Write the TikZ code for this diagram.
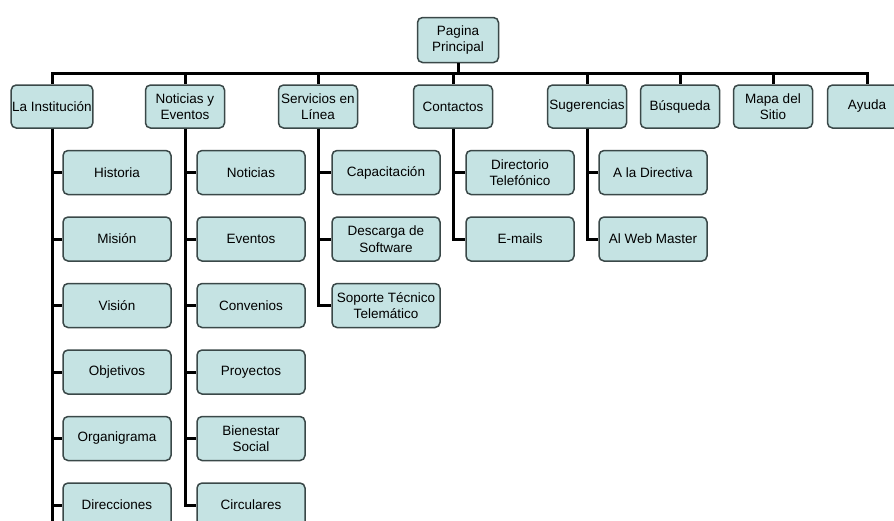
\documentclass[tikz,border=0pt]{standalone}
\usepackage{fontspec}
\setmainfont{Liberation Sans}
\usepackage{tikz}
\usetikzlibrary{positioning}
\usepackage{xcolor}
\definecolor{boxfill}{RGB}{197,227,227}
\definecolor{boxline}{RGB}{58,72,72}
\tikzstyle{link} = [line width=3pt, color=black]
\tikzstyle{mainbox} = [rectangle, rounded corners=5pt, minimum width=79pt, minimum height=43pt, text centered, align=center, inner sep=1pt, draw=boxline, fill=boxfill, line width=1.5pt, font=\fontsize{13.5}{16.5}\selectfont]
\tikzstyle{subbox} = [mainbox, minimum width=108pt, minimum height=44pt]

\begin{document}
\begin{tikzpicture}[x=1pt, y=-1pt, node distance=66.5pt]
\useasboundingbox (0,0) rectangle (894,520);
\coordinate (bus) at (0,73);
\coordinate (pageend) at (0,530);

% Pagina principal
\node (root) [mainbox, minimum width=81pt, minimum height=45pt] at (458,40) {Pagina\\Principal};

% first level
\node (inst) [mainbox] at (52,106.5) {La Institución};
\node (noti) [mainbox] at (185,106.5) {Noticias y\\Eventos};
\node (serv) [mainbox] at (318,106.5) {Servicios en\\Línea};
\node (cont) [mainbox] at (453,106.5) {Contactos};
\node (suge) [mainbox] at (587,106.5) {Sugerencias};
\node (busq) [mainbox] at (680,106.5) {Búsqueda};
\node (mapa) [mainbox] at (773,106.5) {Mapa del\\Sitio};
\node (ayuda) [mainbox] at (867,106.5) {Ayuda};

% La Institucion
\node (hist) [subbox] at (117,172.5) {Historia};
\node (mision) [subbox, below of=hist] {Misión};
\node (vision) [subbox, below of=mision] {Visión};
\node (obj) [subbox, below of=vision] {Objetivos};
\node (organi) [subbox, below of=obj] {Organigrama};
\node (direc) [subbox, below of=organi] {Direcciones};

% Noticias y Eventos
\node (notic) [subbox] at (251,172.5) {Noticias};
\node (event) [subbox, below of=notic] {Eventos};
\node (conv) [subbox, below of=event] {Convenios};
\node (proy) [subbox, below of=conv] {Proyectos};
\node (bienes) [subbox, below of=proy] {Bienestar\\Social};
\node (circ) [subbox, below of=bienes] {Circulares};

% Servicios en Linea
\node (capac) [subbox] at (386,172.5) {Capacitación};
\node (desc) [subbox, below of=capac] {Descarga de\\Software};
\node (soporte) [subbox, below of=desc] {Soporte Técnico\\Telemático};

% Contactos
\node (direct) [subbox] at (520,172.5) {Directorio\\Telefónico};
\node (email) [subbox, below of=direct] {E-mails};

% Sugerencias
\node (adir) [subbox] at (653,172.5) {A la Directiva};
\node (webm) [subbox, below of=adir] {Al Web Master};

% connectors
\foreach \n in {inst,noti,serv,cont,suge,busq,mapa,ayuda}
  \draw[link] (root) -- (root |- bus) -| (\n);
\draw[link] (inst.south) -- (inst.south |- pageend);
\foreach \n in {hist,mision,vision,obj,organi,direc}
  \draw[link] (inst) |- (\n);
\foreach \n in {notic,event,conv,proy,bienes,circ}
  \draw[link] (noti) |- (\n);
\foreach \n in {capac,desc,soporte}
  \draw[link] (serv) |- (\n);
\foreach \n in {direct,email}
  \draw[link] (cont) |- (\n);
\foreach \n in {adir,webm}
  \draw[link] (suge) |- (\n);
\end{tikzpicture}
\end{document}
